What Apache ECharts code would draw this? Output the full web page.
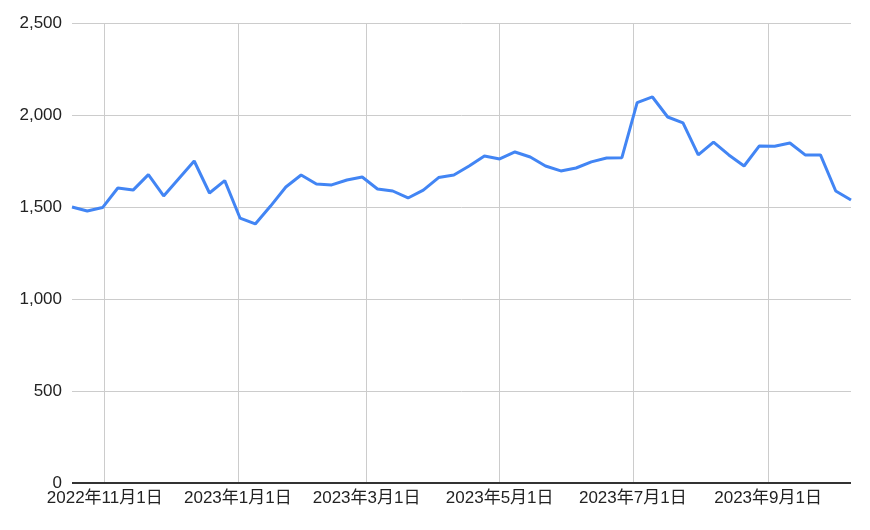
<!DOCTYPE html>
<html>
<head>
<meta charset="utf-8">
<script src="https://cdn.jsdelivr.net/npm/echarts@6/dist/echarts.min.js"></script>
<style>
html,body{margin:0;padding:0;background:#fff;}
#chart{width:870px;height:530px;}
</style>
</head>
<body>
<div id="chart"></div>
<script>
const dates = [
  '2022-10-17','2022-10-24','2022-10-31','2022-11-07','2022-11-14','2022-11-21','2022-11-28',
  '2022-12-05','2022-12-12','2022-12-19','2022-12-26','2023-01-02','2023-01-09','2023-01-16',
  '2023-01-23','2023-01-30','2023-02-06','2023-02-13','2023-02-20','2023-02-27','2023-03-06',
  '2023-03-13','2023-03-20','2023-03-27','2023-04-03','2023-04-10','2023-04-17','2023-04-24',
  '2023-05-01','2023-05-08','2023-05-15','2023-05-22','2023-05-29','2023-06-05','2023-06-12',
  '2023-06-19','2023-06-26','2023-07-03','2023-07-10','2023-07-17','2023-07-24','2023-07-31',
  '2023-08-07','2023-08-14','2023-08-21','2023-08-28','2023-09-04','2023-09-11','2023-09-18',
  '2023-09-25','2023-10-02','2023-10-09'
];
const values = [
  1500,1478,1497,1603,1592,1676,1560,
  1655,1750,1576,1643,1440,1408,1505,
  1609,1674,1625,1620,1647,1663,1598,
  1587,1549,1592,1660,1674,1723,1777,
  1761,1799,1772,1723,1696,1712,1745,
  1766,1768,2067,2098,1989,1957,1783,
  1853,1783,1723,1832,1830,1848,1783,
  1783,1587,1538
];
const xTickDates = ['2022-11-01','2023-01-01','2023-03-01','2023-05-01','2023-07-01','2023-09-01'];
const yTicks = [0, 500, 1000, 1500, 2000, 2500];

function toTime(s){ const p = s.split('-').map(Number); return new Date(p[0], p[1]-1, p[2]).getTime(); }
const xTickTimes = xTickDates.map(toTime);
const seriesData = dates.map((d,i)=>[toTime(d), values[i]]);

const chart = echarts.init(document.getElementById('chart'), null, {renderer:'canvas'});
const fontFamily = 'Arial, "Liberation Sans", "Noto Sans CJK JP", sans-serif';
chart.setOption({
  animation:false,
  backgroundColor:'#ffffff',
  grid:{left:72, right:19, top:23, bottom:47, containLabel:false},
  xAxis:{
    type:'value',
    min: toTime(dates[0]),
    max: toTime(dates[dates.length-1]),
    axisLine:{show:false},
    axisTick:{show:false, customValues:xTickTimes},
    splitLine:{show:true, lineStyle:{color:'#cccccc', width:1}},
    axisLabel:{
      customValues:xTickTimes,
      color:'#222222', fontSize:17, fontFamily:fontFamily, margin:7,
      hideOverlap:false, showMinLabel:true, showMaxLabel:true,
      formatter:function(v){ const d=new Date(v); return d.getFullYear()+'年'+(d.getMonth()+1)+'月'+d.getDate()+'日'; }
    }
  },
  yAxis:{
    type:'value', min:yTicks[0], max:yTicks[yTicks.length-1], interval:500,
    axisLine:{show:false}, axisTick:{show:false},
    splitLine:{show:true, lineStyle:{color:'#cccccc', width:1}},
    axisLabel:{
      color:'#222222', fontSize:17, fontFamily:fontFamily, margin:10,
      formatter:function(v){ return v.toLocaleString('en-US'); }
    }
  },
  series:[
    {
      type:'line', data:seriesData, showSymbol:false, symbol:'none',
      lineStyle:{color:'#4285F4', width:3}, itemStyle:{color:'#4285F4'},
      markLine:{
        silent:true, symbol:'none', label:{show:false},
        lineStyle:{color:'#333333', width:2, type:'solid'},
        data:[{yAxis:0}]
      }
    }
  ]
});
</script>
</body>
</html>
